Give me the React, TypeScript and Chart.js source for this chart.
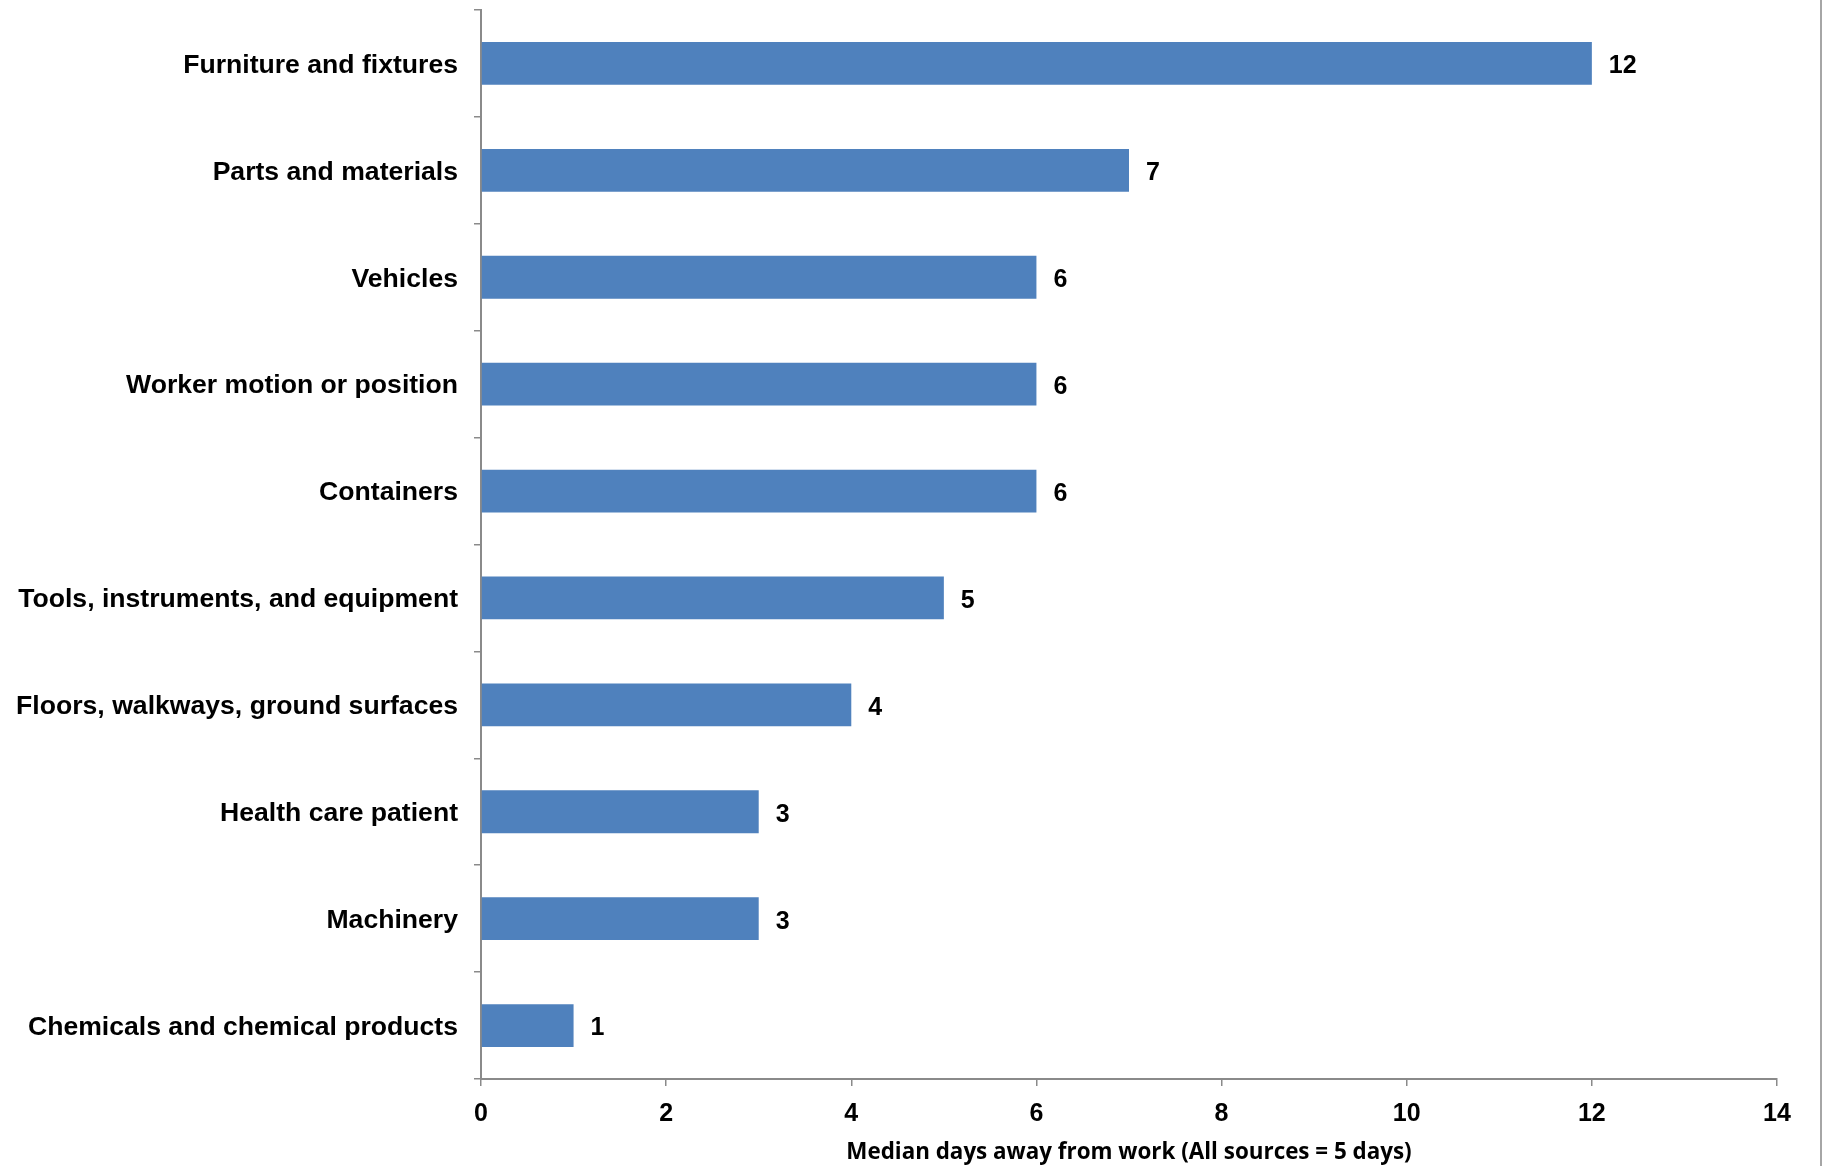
import React, { useEffect, useRef } from "react";
import { Chart, registerables } from "chart.js";

Chart.register(...registerables);

const categories: string[] = [
  "Furniture and fixtures",
  "Parts and materials",
  "Vehicles",
  "Worker motion or position",
  "Containers",
  "Tools, instruments, and equipment",
  "Floors, walkways, ground surfaces",
  "Health care patient",
  "Machinery",
  "Chemicals and chemical products",
];

const medianDays: number[] = [12, 7, 6, 6, 6, 5, 4, 3, 3, 1];

const xTicks: number[] = [0, 2, 4, 6, 8, 10, 12, 14];

const xTitle = "Median days away from work (All sources = 5 days)";

const W = 1826;
const H = 1166;
const AXIS_COLOR = "#8a8a8a";
const BAR_COLOR = "#4F81BD";
const LABEL_FONT = "Liberation Sans, Arial, sans-serif";

const dataLabelPlugin = {
  id: "dataLabels",
  afterDatasetsDraw(chart: any) {
    const ctx = chart.ctx;
    const meta = chart.getDatasetMeta(0);
    ctx.save();
    ctx.font = `bold 25px ${LABEL_FONT}`;
    ctx.fillStyle = "#000";
    ctx.textAlign = "left";
    ctx.textBaseline = "middle";
    meta.data.forEach((el: any, i: number) => {
      ctx.fillText(String(medianDays[i]), el.x + 17, el.y + 3);
    });
    ctx.restore();
  },
};

const frameLinePlugin = {
  id: "frameLine",
  afterDraw(chart: any) {
    const ctx = chart.ctx;
    ctx.save();
    ctx.strokeStyle = "#a6a6a6";
    ctx.lineWidth = 2;
    ctx.beginPath();
    ctx.moveTo(1821, 0);
    ctx.lineTo(1821, chart.height);
    ctx.stroke();
    ctx.restore();
  },
};

export default function App() {
  const ref = useRef<HTMLCanvasElement | null>(null);

  useEffect(() => {
    document.body.style.margin = "0";
    const canvas = ref.current;
    if (!canvas) return;
    const chart = new Chart(canvas, {
      type: "bar",
      data: {
        labels: categories,
        datasets: [
          {
            data: medianDays,
            backgroundColor: BAR_COLOR,
            borderWidth: 0,
            categoryPercentage: 1,
            barPercentage: 0.4,
          },
        ],
      },
      options: {
        indexAxis: "y",
        animation: false,
        responsive: false,
        maintainAspectRatio: false,
        devicePixelRatio: 1,
        layout: { padding: { top: 10, right: 49, left: 0, bottom: 0 } },
        plugins: {
          legend: { display: false },
          tooltip: { enabled: false },
        },
        scales: {
          x: {
            type: "linear",
            min: 0,
            max: 14,
            afterBuildTicks(scale: any) {
              scale.ticks = xTicks.map((v) => ({ value: v }));
            },
            afterFit(scale: any) {
              scale.height = 87;
            },
            ticks: {
              color: "#000",
              font: { family: LABEL_FONT, size: 25, weight: "bold" },
              padding: 13,
              maxRotation: 0,
            },
            grid: {
              drawOnChartArea: false,
              drawTicks: true,
              tickLength: 7,
              color: AXIS_COLOR,
              lineWidth: 1.5,
            },
            border: { color: AXIS_COLOR, width: 2 },
            title: {
              display: true,
              text: xTitle,
              color: "#000",
              font: { family: "Open Sans, sans-serif", size: 22.4, weight: "bold" },
              padding: { top: 0, bottom: 0 },
            },
          },
          y: {
            type: "category",
            afterFit(scale: any) {
              scale.width = 481;
              scale.paddingTop = 0;
              scale.paddingBottom = 0;
            },
            ticks: {
              color: "#000",
              font: { family: LABEL_FONT, size: 26.6, weight: "bold" },
              padding: 16,
              labelOffset: 2,
            },
            grid: {
              drawOnChartArea: false,
              drawTicks: true,
              tickLength: 7,
              color: AXIS_COLOR,
              lineWidth: 1.5,
              offset: true,
            },
            border: { color: AXIS_COLOR, width: 2 },
          },
        },
      },
      plugins: [dataLabelPlugin, frameLinePlugin],
    });
    return () => chart.destroy();
  }, []);

  return (
    <div style={{ width: W, height: H, background: "#fff", overflow: "hidden" }}>
      <canvas ref={ref} width={W} height={H} style={{ display: "block", width: W, height: H }} />
    </div>
  );
}
